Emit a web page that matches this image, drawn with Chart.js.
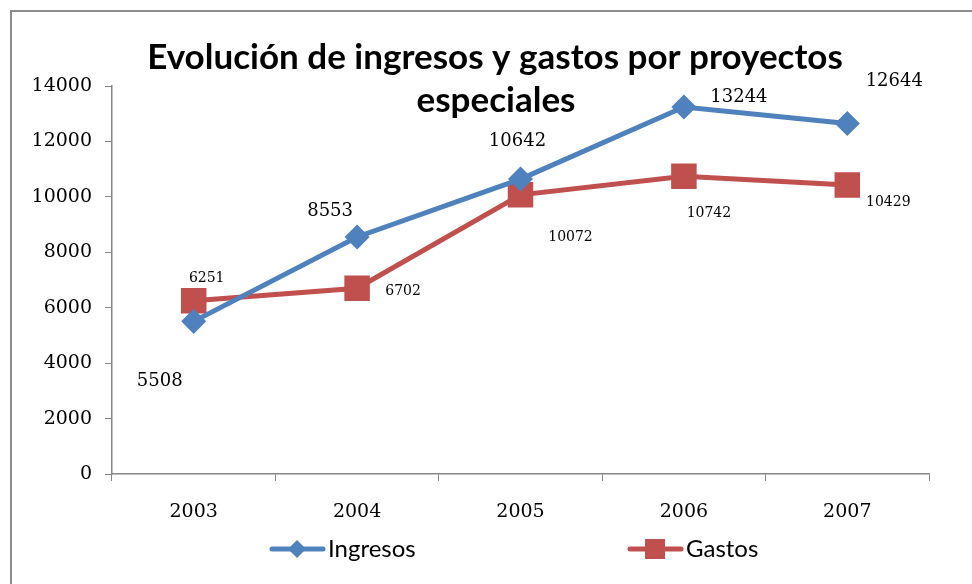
<!DOCTYPE html>
<html>
<head>
<meta charset="utf-8">
<script src="https://cdn.jsdelivr.net/npm/chart.js@4/dist/chart.umd.min.js"></script>
<style>
html,body{margin:0;padding:0;background:#fff;}
#wrap{width:972px;height:584px;}
</style>
</head>
<body>
<div id="wrap"><canvas id="myChart" width="972" height="584"></canvas></div>
<script>
// data
var years = ['2003', '2004', '2005', '2006', '2007'];
var ingresos = [5508, 8553, 10642, 13244, 12644];
var gastos = [6251, 6702, 10072, 10742, 10429];
var seriesNames = ['Ingresos', 'Gastos'];
var yMin = 0, yMax = 14000, yStep = 2000;
var titleLines = ['Evolución de ingresos y gastos por proyectos', 'especiales'];

var blue = '#4F81BD';
var red = '#C0504D';
var numFont = '"DejaVu Serif", serif';

// where each data label sits relative to its point (dx, dy)
var labelShift = [
    [[-34, 60], [-27, -26], [-3, -38], [55, -10], [47, -42]],
    [[13, -22], [46, 3], [50, 42], [25, 37], [41, 17]]
];
var labelSize = [18, 14];

function drawMarker(ctx, style, color, x, y){
    ctx.fillStyle = color;
    ctx.beginPath();
    if (style == 'rectRot'){
        ctx.moveTo(x, y - 9);
        ctx.lineTo(x + 9, y);
        ctx.lineTo(x, y + 9);
        ctx.lineTo(x - 9, y);
        ctx.closePath();
    } else {
        ctx.rect(x - 10, y - 10, 20, 20);
    }
    ctx.fill();
}

var extras = {
    id: 'extras',
    afterDraw: function(chart){
        var ctx = chart.ctx;
        ctx.save();

        // frame (only left and top show in the picture)
        ctx.strokeStyle = '#8c8c8c';
        ctx.lineWidth = 2;
        ctx.strokeRect(11, 11, 1000, 1000);

        // title
        ctx.fillStyle = '#000';
        ctx.font = 'bold 35px Lato';
        ctx.textAlign = 'center';
        ctx.textBaseline = 'middle';
        ctx.fillText(titleLines[0], 495, 58);
        ctx.fillText(titleLines[1], 496, 101);

        // data labels
        chart.data.datasets.forEach(function(ds, i){
            var meta = chart.getDatasetMeta(i);
            ctx.font = labelSize[i] + 'px ' + numFont;
            meta.data.forEach(function(pt, j){
                var sh = labelShift[i][j];
                ctx.fillText(String(ds.data[j]), pt.x + sh[0], pt.y + sh[1]);
            });
        });

        // legend
        var legX = [270, 628];
        var legY = 549;
        chart.data.datasets.forEach(function(ds, i){
            var x0 = legX[i];
            ctx.strokeStyle = ds.borderColor;
            ctx.lineWidth = 5;
            ctx.lineCap = 'round';
            ctx.beginPath();
            ctx.moveTo(x0 + 2, legY);
            ctx.lineTo(x0 + 53, legY);
            ctx.stroke();
            drawMarker(ctx, ds.pointStyle, ds.backgroundColor, x0 + 27, legY);
            ctx.fillStyle = '#000';
            ctx.font = '24px Lato';
            ctx.textAlign = 'left';
            ctx.fillText(ds.label, x0 + 58, legY);
        });
        ctx.restore();
    }
};

var ctx = document.getElementById('myChart').getContext('2d');
var chart = new Chart(ctx, {
    type: 'line',
    data: {
        labels: years,
        datasets: [{
            label: seriesNames[0],
            data: ingresos,
            borderColor: blue,
            backgroundColor: blue,
            borderWidth: 5,
            pointStyle: 'rectRot',
            pointRadius: 9,
            pointHoverRadius: 9,
            tension: 0
        }, {
            label: seriesNames[1],
            data: gastos,
            borderColor: red,
            backgroundColor: red,
            borderWidth: 5,
            pointStyle: 'rect',
            pointRadius: 14.5,
            pointHoverRadius: 14.5,
            tension: 0
        }]
    },
    options: {
        responsive: false,
        devicePixelRatio: 1,
        animation: false,
        layout: { padding: { top: 86, right: 43, left: 0, bottom: 50 } },
        plugins: {
            legend: { display: false },
            title: { display: false },
            tooltip: { enabled: false }
        },
        scales: {
            x: {
                offset: true,
                grid: { offset: true, drawOnChartArea: false, tickLength: 7, color: '#868686' },
                border: { color: '#868686', width: 1.5 },
                ticks: { color: '#000', font: { family: numFont, size: 19 }, padding: 20 },
                afterFit: function(s){ s.height = 60; }
            },
            y: {
                min: yMin,
                max: yMax,
                ticks: {
                    stepSize: yStep,
                    color: '#000',
                    font: { family: numFont, size: 19 },
                    padding: 13,
                    callback: function(v){ return String(v); }
                },
                grid: { drawOnChartArea: false, tickLength: 7, color: '#868686' },
                border: { color: '#868686', width: 1.5 },
                afterFit: function(s){ s.width = 112; }
            }
        }
    },
    plugins: [extras]
});
</script>
</body>
</html>
